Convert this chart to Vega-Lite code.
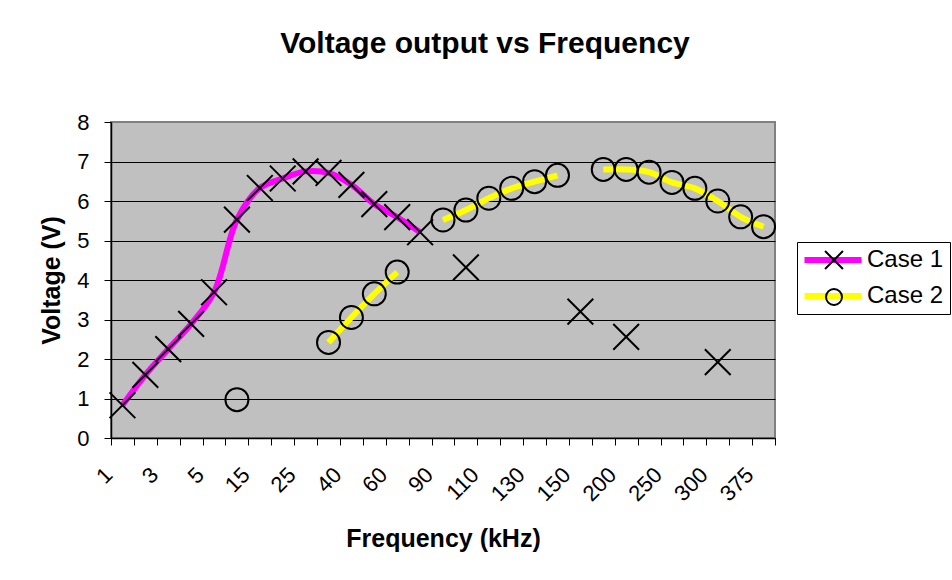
{
  "$schema": "https://vega.github.io/schema/vega-lite/v6.json",
  "width": 664,
  "height": 316,
  "autosize": "none",
  "padding": {"left": 111, "top": 122, "right": 177, "bottom": 142},
  "background": "white",
  "title": {
    "text": "Voltage output vs Frequency",
    "font": "Liberation Sans",
    "fontSize": 30,
    "fontWeight": "bold",
    "color": "black",
    "anchor": "middle",
    "frame": "group",
    "dx": 42,
    "baseline": "alphabetic",
    "offset": 28
  },
  "config": {
    "view": {"fill": "#C0C0C0", "stroke": "#808080", "strokeWidth": 2},
    "font": "Liberation Sans"
  },
  "data": {
    "values": [
      {"freq": "1", "s": "Case 1", "v": 0.83},
      {"freq": "2", "s": "Case 1", "v": 1.6},
      {"freq": "3", "s": "Case 1", "v": 2.25},
      {"freq": "4", "s": "Case 1", "v": 2.89},
      {"freq": "5", "s": "Case 1", "v": 3.69},
      {"freq": "10", "s": "Case 1", "v": 5.53},
      {"freq": "15", "s": "Case 1", "v": 6.33},
      {"freq": "20", "s": "Case 1", "v": 6.57},
      {"freq": "25", "s": "Case 1", "v": 6.75},
      {"freq": "30", "s": "Case 1", "v": 6.71},
      {"freq": "40", "s": "Case 1", "v": 6.41},
      {"freq": "50", "s": "Case 1", "v": 5.92},
      {"freq": "60", "s": "Case 1", "v": 5.59},
      {"freq": "75", "s": "Case 1", "v": 5.21},
      {"freq": "90", "s": "Case 1", "v": null},
      {"freq": "100", "s": "Case 1", "v": 4.32},
      {"freq": "110", "s": "Case 1", "v": null},
      {"freq": "120", "s": "Case 1", "v": null},
      {"freq": "130", "s": "Case 1", "v": null},
      {"freq": "140", "s": "Case 1", "v": null},
      {"freq": "150", "s": "Case 1", "v": 3.2},
      {"freq": "175", "s": "Case 1", "v": null},
      {"freq": "200", "s": "Case 1", "v": 2.56},
      {"freq": "225", "s": "Case 1", "v": null},
      {"freq": "250", "s": "Case 1", "v": null},
      {"freq": "275", "s": "Case 1", "v": null},
      {"freq": "300", "s": "Case 1", "v": 1.92},
      {"freq": "350", "s": "Case 1", "v": null},
      {"freq": "375", "s": "Case 1", "v": null},
      {"freq": "1", "s": "Case 2", "v": null},
      {"freq": "2", "s": "Case 2", "v": null},
      {"freq": "3", "s": "Case 2", "v": null},
      {"freq": "4", "s": "Case 2", "v": null},
      {"freq": "5", "s": "Case 2", "v": null},
      {"freq": "10", "s": "Case 2", "v": 0.97},
      {"freq": "15", "s": "Case 2", "v": null},
      {"freq": "20", "s": "Case 2", "v": null},
      {"freq": "25", "s": "Case 2", "v": null},
      {"freq": "30", "s": "Case 2", "v": 2.42},
      {"freq": "40", "s": "Case 2", "v": 3.05},
      {"freq": "50", "s": "Case 2", "v": 3.65},
      {"freq": "60", "s": "Case 2", "v": 4.2},
      {"freq": "75", "s": "Case 2", "v": null},
      {"freq": "90", "s": "Case 2", "v": 5.52},
      {"freq": "100", "s": "Case 2", "v": 5.77},
      {"freq": "110", "s": "Case 2", "v": 6.07},
      {"freq": "120", "s": "Case 2", "v": 6.32},
      {"freq": "130", "s": "Case 2", "v": 6.49},
      {"freq": "140", "s": "Case 2", "v": 6.65},
      {"freq": "150", "s": "Case 2", "v": null},
      {"freq": "175", "s": "Case 2", "v": 6.8},
      {"freq": "200", "s": "Case 2", "v": 6.8},
      {"freq": "225", "s": "Case 2", "v": 6.73},
      {"freq": "250", "s": "Case 2", "v": 6.47},
      {"freq": "275", "s": "Case 2", "v": 6.32},
      {"freq": "300", "s": "Case 2", "v": 6.0},
      {"freq": "350", "s": "Case 2", "v": 5.6},
      {"freq": "375", "s": "Case 2", "v": 5.35}
    ]
  },
  "encoding": {
    "x": {
      "field": "freq",
      "type": "nominal",
      "sort": null,
      "scale": {
        "type": "band",
        "domain": ["1","2","3","4","5","10","15","20","25","30","40","50","60","75","90","100","110","120","130","140","150","175","200","225","250","275","300","350","375"],
        "paddingInner": 0,
        "paddingOuter": 0
      },
      "axis": {
        "title": "Frequency (kHz)",
        "titleFont": "Liberation Sans",
        "titleFontSize": 25,
        "titleFontWeight": "bold",
        "titleColor": "black",
        "titleBaseline": "alphabetic",
        "titleAlign": "center",
        "titleX": 332,
        "titleY": 108,
        "tickBand": "extent",
        "ticks": true,
        "tickSize": 7,
        "tickColor": "black",
        "domainColor": "black",
        "domainWidth": 1.5,
        "labelAngle": -45,
        "labelAlign": "right",
        "labelBaseline": "middle",
        "labelFont": "Liberation Sans",
        "labelFontSize": 22,
        "labelColor": "black",
        "labelPadding": 26,
        "labelOffset": -14,
        "labelOverlap": false,
        "labelExpr": "indexof(['1','3','5','15','25','40','60','90','110','130','150','200','250','300','375'], datum.value) >= 0 ? datum.label : ''",
        "grid": false
      }
    },
    "y": {
      "field": "v",
      "type": "quantitative",
      "scale": {"domain": [0, 8], "nice": false, "zero": true},
      "axis": {
        "title": "Voltage (V)",
        "titleFont": "Liberation Sans",
        "titleFontSize": 25,
        "titleFontWeight": "bold",
        "titleColor": "black",
        "titleAngle": -90,
        "titleBaseline": "alphabetic",
        "titleAlign": "center",
        "titleX": -52,
        "titleY": 158,
        "values": [0, 1, 2, 3, 4, 5, 6, 7, 8],
        "tickSize": 7,
        "tickColor": "black",
        "domainColor": "black",
        "domainWidth": 1.5,
        "labelFont": "Liberation Sans",
        "labelFontSize": 22,
        "labelColor": "black",
        "labelPadding": 15,
        "grid": true,
        "gridColor": {"condition": {"test": "datum.value === 8", "value": "#808080"}, "value": "black"},
        "gridWidth": 1,
        "gridOpacity": 1
      }
    }
  },
  "layer": [
    {
      "mark": {
        "type": "line",
        "interpolate": "catmull-rom",
        "strokeWidth": 6,
        "strokeCap": "butt",
        "invalid": "break-paths-filter-domains"
      },
      "encoding": {
        "stroke": {
          "field": "s",
          "type": "nominal",
          "scale": {"domain": ["Case 1", "Case 2"], "range": ["#FF00FF", "#FFFF00"]},
          "legend": {
            "orient": "none",
            "legendX": 686,
            "legendY": 120,
            "title": null,
            "symbolType": "M-9.5,0H9.5",
            "symbolSize": 36,
            "symbolStrokeWidth": 6,
            "symbolOffset": 18,
            "labelFont": "Liberation Sans",
            "labelFontSize": 24,
            "labelColor": "black",
            "labelOffset": 22,
            "strokeColor": "black",
            "padding": 6,
            "rowPadding": 12
          }
        }
      }
    },
    {
      "mark": {"type": "point", "filled": false, "strokeWidth": 2, "color": "black", "opacity": 1, "size": 529},
      "encoding": {
        "shape": {
          "field": "s",
          "type": "nominal",
          "scale": {
            "range": ["M-1.12,-1.12L1.12,1.12M-1.12,1.12L1.12,-1.12", "circle"]
          },
          "legend": {
            "orient": "none",
            "legendX": 705,
            "legendY": 120,
            "title": null,
            "symbolSize": 256,
            "symbolStrokeColor": "black",
            "symbolFillColor": "transparent",
            "symbolStrokeWidth": 2,
            "labelExpr": "''",
            "labelFont": "Liberation Sans",
            "labelFontSize": 24,
            "padding": 6,
            "rowPadding": 12
          }
        }
      }
    }
  ]
}
